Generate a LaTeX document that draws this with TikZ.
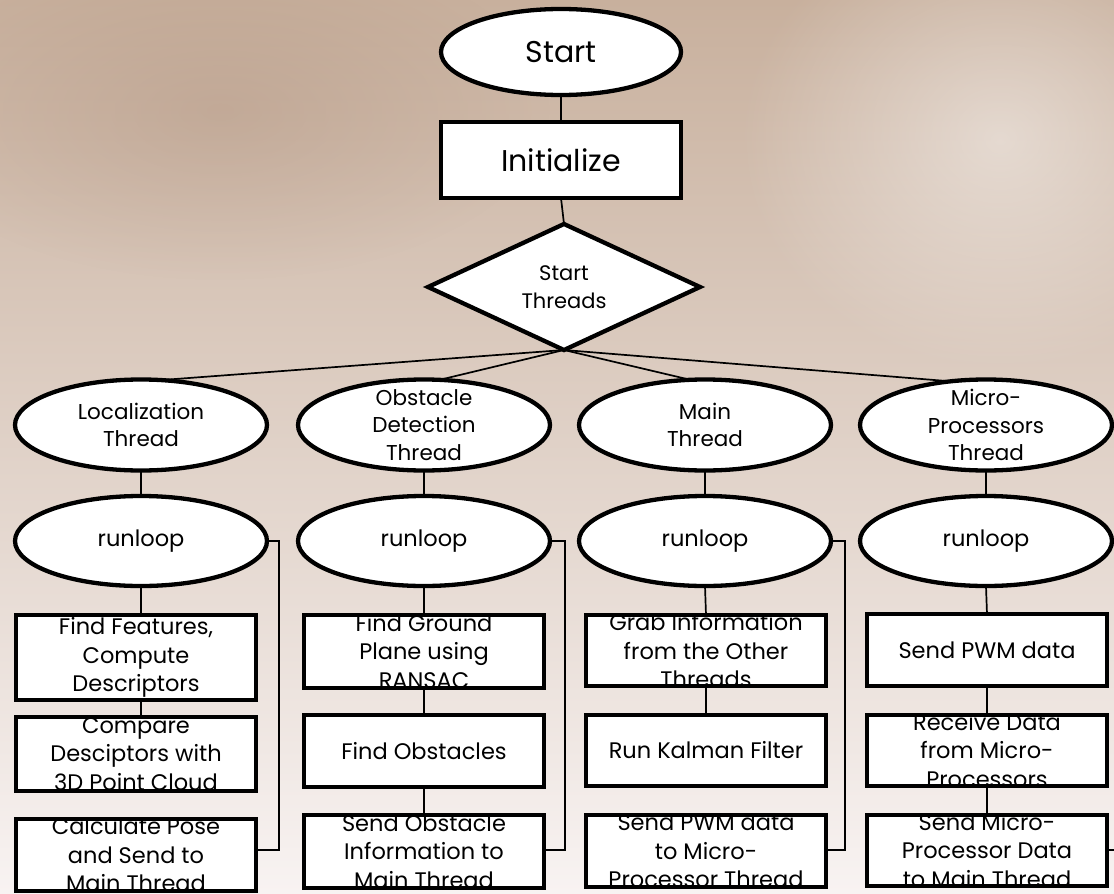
\documentclass[tikz,border=0pt]{standalone}
\usepackage{fontspec}
\setmainfont{Poppins}
\usetikzlibrary{shapes.geometric,fadings}
\definecolor{bgtop}{RGB}{200,176,157}
\definecolor{bgmid}{RGB}{230,215,207}
\definecolor{bgbot}{RGB}{248,243,242}
\definecolor{bgdark}{RGB}{172,142,122}
\tikzfading[name=softdisc, inner color=transparent!0, outer color=transparent!100]
\tikzset{
  bg/.style={fill=white, inner sep=0pt, outer sep=0pt},
  border/.style={draw=black, line width=4.3pt},
  conn/.style={draw=black, line width=1.7pt},
  lbl/.style={inner sep=0pt, align=center, text=black},
  ftbig/.style={font=\fontsize{30}{36}\selectfont},
  ftbox/.style={font=\fontsize{22.5}{28.5}\selectfont},
  ftthr/.style={font=\fontsize{21.5}{27.5}\selectfont},
  ftdia/.style={font=\fontsize{21}{28}\selectfont},
}
% name, x, y, width, height, font style, text
\newcommand\mkrect[7]{%
  \node[bg, rectangle, minimum width=#4pt, minimum height=#5pt] (#1) at (#2,#3) {};
  \begin{scope}\clip (#1.south west) rectangle (#1.north east);
    \node[lbl, #6] (#1-t) at (#1.center) {#7};\end{scope}
  \draw[border] (#1.south west) rectangle (#1.north east);}
% name, x, y, x radius, y radius, font style, text
\newcommand\mkell[7]{%
  \node[bg, ellipse, minimum width=2*#4pt, minimum height=2*#5pt] (#1) at (#2,#3) {};
  \begin{scope}\clip (#1.center) ellipse [x radius=#4pt, y radius=#5pt];
    \node[lbl, #6] (#1-t) at (#1.center) {#7};\end{scope}
  \draw[border] (#1.center) ellipse [x radius=#4pt, y radius=#5pt];}
\begin{document}
\begin{tikzpicture}[x=1pt, y=-1pt]
\useasboundingbox (0,0) rectangle (1114,894);
\shade[top color=bgtop, middle color=bgmid, bottom color=bgbot] (0,0) rectangle (1114,894);
\fill[bgdark, opacity=0.35, path fading=softdisc] (220,110) ellipse [x radius=330pt, y radius=170pt];
\fill[white, opacity=0.45, path fading=softdisc] (1000,140) ellipse [x radius=260pt, y radius=230pt];

% top
\mkell{start}{561}{52}{120}{43}{ftbig}{Start}
\mkrect{init}{561}{160}{240}{76}{ftbig}{Initialize}
\node[bg, diamond, border, minimum width=272pt, minimum height=126pt] (dia) at (564,287) {};
\node[lbl, ftdia] (dia-t) at (dia.center) {Start\\Threads};

% threads
\mkell{loc}{141}{425}{126}{45.5}{ftthr}{Localization\\Thread}
\mkell{obs}{424}{425}{126}{45.5}{ftthr}{Obstacle\\Detection\\Thread}
\mkell{mth}{705}{425}{126}{45.5}{ftthr}{Main\\Thread}
\mkell{mic}{986}{425}{126}{45.5}{ftthr}{Micro-\\Processors\\Thread}

% runloops
\mkell{r1}{141}{541}{126}{45}{ftbox}{runloop}
\mkell{r2}{424}{541}{126}{45}{ftbox}{runloop}
\mkell{r3}{705}{541}{126}{45}{ftbox}{runloop}
\mkell{r4}{986}{541}{126}{45}{ftbox}{runloop}

% column 1
\mkrect{b11}{136}{657.5}{240}{85}{ftbox}{Find Features,\\Compute\\Descriptors}
\mkrect{b12}{136}{754}{240}{74}{ftbox}{Compare\\Desciptors with\\3D Point Cloud}
\mkrect{b13}{136}{855}{240}{72}{ftbox}{Calculate Pose\\and Send to\\Main Thread}
% column 2
\mkrect{b21}{424}{651.5}{240}{73}{ftbox}{Find Ground\\Plane using\\RANSAC}
\mkrect{b22}{424}{751}{240}{72}{ftbox}{Find Obstacles}
\mkrect{b23}{424}{851.5}{240}{73}{ftbox}{Send Obstacle\\Information to\\Main Thread}
% column 3
\mkrect{b31}{706}{650.5}{240}{71}{ftbox}{Grab Information\\from the Other\\Threads}
\mkrect{b32}{706}{750.5}{240}{71}{ftbox}{Run Kalman Filter}
\mkrect{b33}{706}{851}{240}{72}{ftbox}{Send PWM data\\to Micro-\\Processor Thread}
% column 4
\mkrect{b41}{987}{650}{240}{72}{ftbox}{Send PWM data}
\mkrect{b42}{987}{750.5}{240}{71}{ftbox}{Receive Data\\from Micro-\\Processors}
\mkrect{b43}{987}{850.5}{240}{71}{ftbox}{Send Micro-\\Processor Data\\to Main Thread}

% connectors
\draw[conn] (start.south) -- (init.north);
\draw[conn] (init.south) -- (dia.north);
\draw[conn] (dia.south) -- (loc.66);
\draw[conn] (dia.south) -- (obs.71);
\draw[conn] (dia.south) -- (mth.108);
\draw[conn] (dia.south) -- (mic.129);
\draw[conn] (loc.south) -- (r1.north);
\draw[conn] (obs.south) -- (r2.north);
\draw[conn] (mth.south) -- (r3.north);
\draw[conn] (mic.south) -- (r4.north);

\draw[conn] (r1.south) -- (r1.south |- b11.north);
\draw[conn] (b11.south -| r1.south) -- (b12.north -| r1.south);
\draw[conn] (r2.south) -- (b21.north);
\draw[conn] (b21.south) -- (b22.north);
\draw[conn] (b22.south) -- (b23.north);
\draw[conn] (r3.south) -- (b31.north);
\draw[conn] (b31.south) -- (b32.north);
\draw[conn] (r4.south) -- (b41.north);
\draw[conn] (b41.south) -- (b42.north);
\draw[conn] (b42.south) -- (b43.north);

% loop-back lines
\coordinate (q1) at (279,850);
\coordinate (q2) at (565,850);
\coordinate (q3) at (845,850);
\coordinate (q4) at (1124,850);
\draw[conn] (r1.east) -| (q1) -- (q1 -| b13.east);
\draw[conn] (r2.east) -| (q2) -- (q2 -| b23.east);
\draw[conn] (r3.east) -| (q3) -- (q3 -| b33.east);
\draw[conn] (r4.east) -| (q4) -- (q4 -| b43.east);
\end{tikzpicture}
\end{document}
